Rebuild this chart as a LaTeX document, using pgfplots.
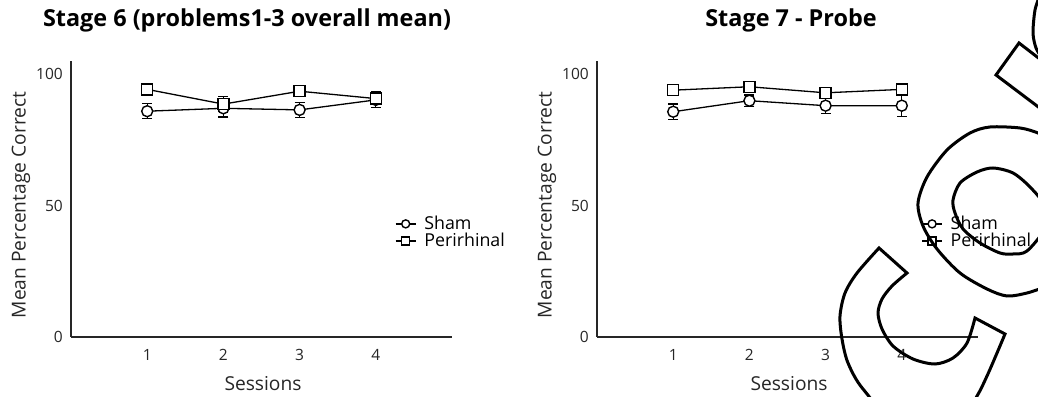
\documentclass[border=0pt]{standalone}
\usepackage{pgfplots}
\usepackage{pgfplotstable}
\pgfplotsset{compat=1.18}
\usepackage{fontspec}
\setmainfont{Open Sans}

\pgfplotstableread{
x y e
1 85.9 2.9
2 87.0 3.3
3 86.4 2.9
4 90.2 3.0
}\shamA
\pgfplotstableread{
x y e
1 94.2 0.8
2 88.6 2.8
3 93.5 0.8
4 90.7 1.6
}\periA
\pgfplotstableread{
x y e
1 85.7 2.9
2 89.9 2.2
3 88.0 2.9
4 88.0 4.2
}\shamB
\pgfplotstableread{
x y e
1 93.9 0.8
2 95.2 0.8
3 92.9 1.0
4 94.2 1.0
}\periB

\pgfplotsset{
  panel/.style={
    scale only axis, width=381pt, height=276pt,
    xmin=0, xmax=5, ymin=0, ymax=105,
    axis x line*=bottom, axis y line*=left,
    axis line style={-, line width=1.5pt, black!85},
    xtick={1,2,3,4}, ytick={0,50,100},
    major tick length=0pt,
    /pgf/number format/assume math mode=true,
    tick label style={font=\fontsize{15.5}{18}\selectfont, black!85},
    xticklabel style={inner sep=0pt, yshift=-12pt},
    yticklabel style={inner sep=0pt, xshift=-8pt},
    label style={font=\fontsize{19.2}{22}\selectfont, black!85},
    xlabel={Sessions}, ylabel={Mean Percentage Correct},
    xlabel style={at={(axis description cs:0.504,-0.167)}, anchor=center},
    ylabel style={at={(axis description cs:-0.131,0.478)}, anchor=center},
    clip=false,
    legend style={draw=none, fill=none, inner sep=0pt,
      font=\fontsize{17.8}{20}\selectfont, legend cell align=left,
      row sep=-2pt, anchor=west,
      /tikz/every odd column/.append style={column sep=6pt}},
    legend image code/.code={\draw[mark repeat=2,mark phase=2,#1,mark size=4pt]
      plot coordinates {(0pt,0pt)(10pt,0pt)(20pt,0pt)};},
  },
  ser/.style={black, line width=1.3pt, mark size=5.5pt,
    mark options={fill=white, line width=1.4pt, solid},
    error bars/y dir=both, error bars/y explicit,
    error bars/error bar style={line width=1.3pt},
    error bars/error mark options={line width=1.3pt, mark size=5pt, rotate=90}},
}

\begin{document}
\begin{tikzpicture}
\begin{axis}[panel, at={(71pt,59pt)}, anchor=south west,
  legend style={at={(axis description cs:0.850,0.379)}}]
\addplot[ser, mark=*] table[x=x, y=y, y error=e] {\shamA};
\addlegendentry{Sham}
\addplot[ser, mark=square*] table[x=x, y=y, y error=e] {\periA};
\addlegendentry{Perirhinal}
\end{axis}
\begin{axis}[panel, at={(597pt,59pt)}, anchor=south west,
  legend style={at={(axis description cs:0.851,0.379)}}]
\addplot[ser, mark=*] table[x=x, y=y, y error=e] {\shamB};
\addlegendentry{Sham}
\addplot[ser, mark=square*] table[x=x, y=y, y error=e] {\periB};
\addlegendentry{Perirhinal}
\end{axis}
\node[font=\fontsize{23.4}{26}\selectfont\bfseries] at (247pt,376pt) {Stage 6 (problems1-3 overall mean)};
\node[font=\fontsize{23.4}{26}\selectfont\bfseries] at (791pt,376pt) {Stage 7 - Probe};
\begin{scope}[x=1pt, y=-1pt, shift={(0pt,396pt)}, line width=3pt, line join=miter]
\draw (879,248) -- (907,273) -- plot[smooth] coordinates {(907,273) (892,286) (882,299) (878,313) (882,329) (893,346) (913,359) (935,364) (953,358) (967,343) (975,318)} -- (1005,334) -- plot[smooth] coordinates {(1005,334) (997,353) (987,376) (977,396) (960,420) (900,425) (863,389) (848,363) (842,339) (840,316) (845,293) (857,273) (879,248)} -- cycle;
\draw plot[smooth] coordinates {(1050,140) (1038,133) (1020,128) (990,127) (970,133) (947,150) (927,177) (918,203) (923,226) (937,249) (960,273) (987,289) (1007,296) (1027,293) (1045,287)};
\draw plot[smooth cycle] coordinates {(953,200) (960,183) (977,172) (993,168) (1013,173) (1030,187) (1044,205) (1045,228) (1027,251) (1013,254) (1000,253) (980,243) (963,229) (955,213)};
\draw (1045,63) -- (1019,43) -- (996,75) -- (1045,112);
\draw plot[smooth] coordinates {(1040,-5) (1035,10) (1033,33) (1036,48) (1042,58)};
\end{scope}
\pgfresetboundingbox
\useasboundingbox (0pt,0pt) rectangle (1038pt,396pt);
\end{tikzpicture}
\end{document}
